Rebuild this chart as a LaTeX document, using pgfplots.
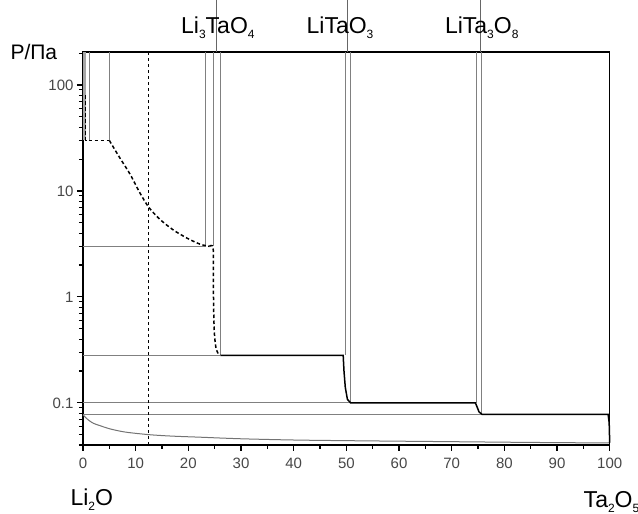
\documentclass[border=0pt]{standalone}
\usepackage{fontspec}
\setmainfont{Liberation Sans}
\usepackage{pgfplots}
\pgfplotsset{compat=1.18}
\newcommand{\sub}[1]{\raisebox{-0.45ex}{\fontsize{12}{13}\selectfont #1}}

\begin{document}
\begin{tikzpicture}
\path[use as bounding box] (-83pt,-69pt) rectangle (555pt,445pt);
\begin{axis}[
  at={(0,0)}, anchor=south west,
  scale only axis,
  width=526.7pt, height=393pt,
  xmin=0, xmax=100,
  ymode=log, ymin=0.04, ymax=205,
  xtick={0,10,...,100}, minor x tick num=1,
  ytick={0.1,1,10,100}, yticklabels={0.1,1,10,100},
  minor ytick={0.04,0.05,0.06,0.07,0.08,0.09,0.2,0.3,0.4,0.5,0.6,0.7,0.8,0.9,2,3,4,5,6,7,8,9,20,30,40,50,60,70,80,90,200},
  xtick pos=bottom, ytick pos=left,
  tick align=outside,
  major tick length=6pt, minor tick length=4pt,
  tick style={black, line width=1.1pt},
  axis line style={black, line width=1.3pt},
  ticklabel style={font=\fontsize{15}{17}\selectfont, text=black!72},
  xticklabel style={yshift=-4pt},
  /pgf/number format/assume math mode=true,
  clip=false,
]
% shaded strip at Li2O side
\addplot[draw=none, fill=black!35] coordinates {(0,30) (0.6,30) (0.6,205) (0,205)} -- cycle;

% thin gray lines
\addplot[black!50, line width=1pt] coordinates {(1.3,205) (1.3,30)};
\addplot[black!50, line width=1pt] coordinates {(5,205) (5,30)};
\addplot[black!50, line width=1pt] coordinates {(23.3,205) (23.3,3)};
\addplot[black!50, line width=1pt] coordinates {(24.8,205) (24.8,3)};
\addplot[black!50, line width=1pt] coordinates {(26.1,205) (26.1,0.28)};
\addplot[black!50, line width=1pt] coordinates {(49.8,205) (49.8,0.28)};
\addplot[black!50, line width=1pt] coordinates {(50.7,205) (50.7,0.1)};
\addplot[black!50, line width=1pt] coordinates {(74.7,205) (74.7,0.1)};
\addplot[black!50, line width=1pt] coordinates {(75.75,205) (75.75,0.078)};

\addplot[black!50, line width=1pt] coordinates {(0,3) (23.3,3)};
\addplot[black!50, line width=1pt] coordinates {(0,0.28) (26.1,0.28)};
\addplot[black!50, line width=1pt] coordinates {(0,0.1) (50.8,0.1)};
\addplot[black!50, line width=1pt] coordinates {(0,0.078) (75.75,0.078)};

% lower curve
\addplot[black!55, line width=1pt, smooth] coordinates {
  (0,0.077) (1,0.069) (2,0.064) (3.2,0.061) (5,0.057) (8,0.053) (12.7,0.050)
  (17,0.0485) (22.2,0.0474) (30,0.0458) (41,0.0445) (55,0.0437) (70,0.043)
  (85,0.0423) (100,0.0418)};

% black boundary
\addplot[black, line width=1.5pt] coordinates {
  (26.1,0.28) (49.4,0.28) (49.55,0.2) (49.8,0.14) (50.2,0.108) (50.8,0.1)
  (74.5,0.1) (74.8,0.092) (75.2,0.082) (75.75,0.078) (99.7,0.078)
  (99.9,0.065) (100,0.042)};

% dashed curve
\addplot[black, line width=1.5pt, dash pattern=on 3.5pt off 2.5pt] coordinates {
  (0.5,80) (0.5,30) (5,30)};
\addplot[black, line width=1.5pt, dash pattern=on 3.5pt off 2.5pt, smooth] coordinates {
  (5,30) (7,20.5) (8.9,14.5) (10.8,9.6) (12.5,7.0) (14.6,5.4)
  (17.1,4.3) (19.7,3.6) (22.2,3.15) (24.0,3.0)};
\addplot[black, line width=1.5pt, dash pattern=on 3.5pt off 2.5pt, smooth] coordinates {
  (24.0,3.0) (24.7,2.9) (24.75,1.5) (24.8,0.8)
  (24.95,0.45) (25.3,0.32) (25.9,0.28)};

% vertical dashed line
\addplot[black, line width=0.9pt, dash pattern=on 3pt off 3pt] coordinates {(12.5,205) (12.5,0.04)};

% right border
\addplot[black, line width=1.5pt] coordinates {(100,0.04) (100,205)};

% compound labels
\draw[black!60, line width=1pt] (rel axis cs:0.254,1) -- ++(0,14pt);
\draw[black!60, line width=1pt] (rel axis cs:0.502,1) -- ++(0,14pt);
\draw[black!60, line width=1pt] (rel axis cs:0.754,1) -- ++(0,14pt);
\node[anchor=base, yshift=19pt, font=\fontsize{23}{26}\selectfont] at (rel axis cs:0.256,1) {Li\sub{3}TaO\sub{4}};
\node[anchor=base, yshift=19pt, font=\fontsize{23}{26}\selectfont] at (rel axis cs:0.488,1) {LiTaO\sub{3}};
\node[anchor=base, yshift=19pt, font=\fontsize{23}{26}\selectfont] at (rel axis cs:0.757,1) {LiTa\sub{3}O\sub{8}};
\node[anchor=base west, xshift=-76pt, yshift=-7pt, font=\fontsize{21}{24}\selectfont] at (rel axis cs:0,1) {P/Па};
\node[anchor=base west, xshift=-16pt, yshift=-60pt, font=\fontsize{23}{26}\selectfont] at (rel axis cs:0,0) {Li\sub{2}O};
\node[anchor=base west, yshift=-62pt, font=\fontsize{23}{26}\selectfont] at (rel axis cs:0.944,0) {Ta\sub{2}O\sub{5}};
\end{axis}
\end{tikzpicture}
\end{document}
